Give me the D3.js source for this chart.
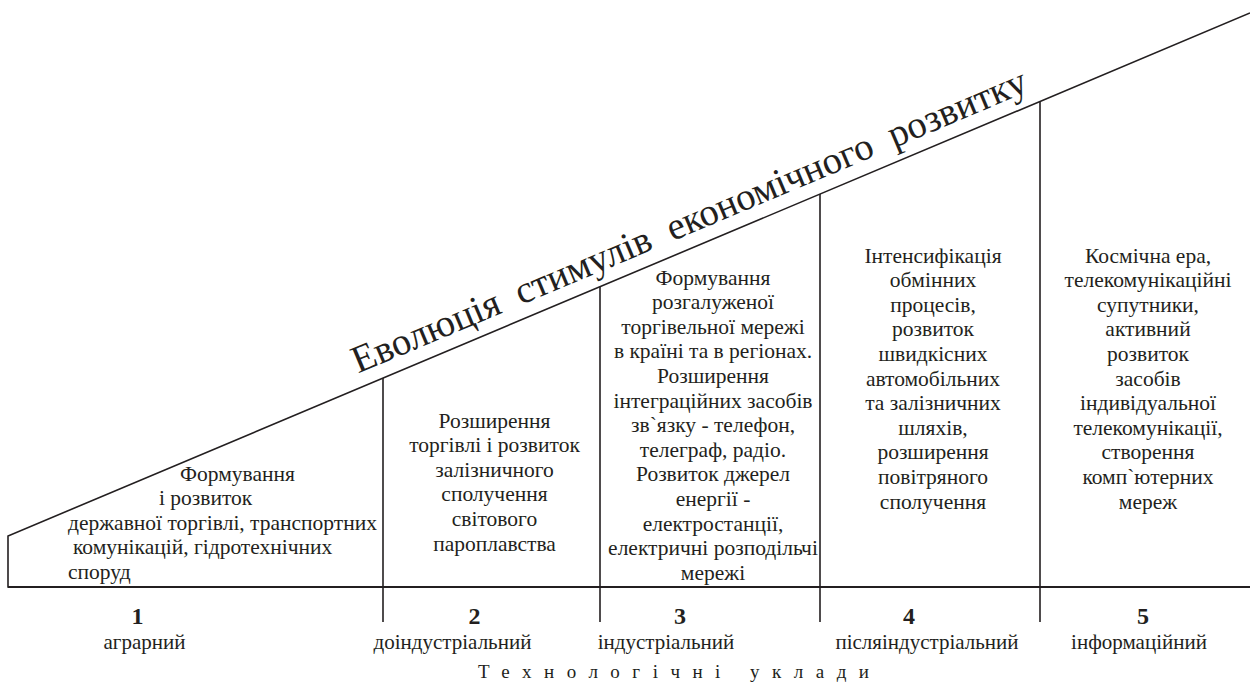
<!DOCTYPE html>
<html>
<head>
<meta charset="utf-8">
<script src="https://cdn.jsdelivr.net/npm/d3@7"></script>
<style>
  body { margin: 0; background: #fff; }
  svg { display: block; font-family: "Liberation Serif", "Times New Roman", serif; }
</style>
</head>
<body>
<div id="chart"></div>
<script>
// Stage data
const stageNumbers = ['1', '2', '3', '4', '5']
const stageNames = ['аграрний', 'доіндустріальний', 'індустріальний', 'післяіндустріальний', 'інформаційний']
const stageTexts = [
  ['Формування', 'і розвиток', 'державної торгівлі, транспортних', 'комунікацій, гідротехнічних', 'споруд'],
  ['Розширення', 'торгівлі і розвиток', 'залізничного', 'сполучення', 'світового', 'пароплавства'],
  ['Формування', 'розгалуженої', 'торгівельної мережі', 'в країні та в регіонах.', 'Розширення',
   'інтеграційних засобів', 'зв`язку - телефон,', 'телеграф, радіо.', 'Розвиток джерел', 'енергії -',
   'електростанції,', 'електричні розподільчі', 'мережі'],
  ['Інтенсифікація', 'обмінних', 'процесів,', 'розвиток', 'швидкісних', 'автомобільних',
   'та залізничних', 'шляхів,', 'розширення', 'повітряного', 'сполучення'],
  ['Космічна ера,', 'телекомунікаційні', 'супутники,', 'активний', 'розвиток', 'засобів',
   'індивідуальної', 'телекомунікації,', 'створення', 'комп`ютерних', 'мереж']
]
const boundaries = [0, 1, 2, 3, 4, 5]
const title = 'Еволюція  стимулів  економічного  розвитку'
const axisTitle = 'Технологічні уклади'

const width = 1250
const height = 684

const svg = d3.select('#chart')
  .append('svg')
  .attr('width', width)
  .attr('height', height)
  .attr('viewBox', [0, 0, width, height])

// stage boundaries along x (stages are not equally wide)
const x = d3.scaleLinear()
  .domain(boundaries)
  .range([8, 383, 600, 820, 1040, 1250])

// rising "stimulus" edge
const edgeY = d3.scaleLinear()
  .domain([x(0), x(5)])
  .range([536, 13])

const baseY = 587
const tickBottom = 622
const ink = '#231f20'

// outline: left edge, diagonal, base
svg.append('path')
  .attr('d', d3.line()([[x(5), edgeY(x(5))], [x(0), edgeY(x(0))], [x(0), baseY], [x(5), baseY]]))
  .attr('fill', 'none')
  .attr('stroke', ink)
  .attr('stroke-width', 1.6)

svg.append('line')
  .attr('x1', x(0)).attr('x2', x(5))
  .attr('y1', baseY).attr('y2', baseY)
  .attr('stroke', ink)
  .attr('stroke-width', 2.2)

// stage dividers
svg.selectAll('.divider')
  .data(boundaries.slice(1, 5))
  .join('line')
  .attr('class', 'divider')
  .attr('x1', d => x(d)).attr('x2', d => x(d))
  .attr('y1', d => edgeY(x(d)))
  .attr('y2', tickBottom)
  .attr('stroke', ink)
  .attr('stroke-width', 1.6)

// title along the diagonal
const angle = Math.atan2(edgeY(x(0)) - edgeY(x(5)), x(5) - x(0)) * 180 / Math.PI
const titleX = 358
const titleText = svg.append('text')
  .attr('transform', `translate(${titleX},${edgeY(titleX) - 15}) rotate(${-angle})`)
  .attr('font-size', 38)
  .attr('fill', ink)
  .style('white-space', 'pre')
  .text(title)
const want = 729
const got = titleText.node().getComputedTextLength()
titleText.attr('font-size', 38 * want / got)

// stage descriptions
const lineH = 24.6
const firstY = [473, 420, 277, 255, 255]
const block1Dx = [172, 151, 60, 65, 60]

stageTexts.forEach((lines, i) => {
  const g = svg.append('g')
    .attr('font-size', 21.5)
    .attr('fill', ink)
  g.selectAll('text')
    .data(lines)
    .join('text')
    .attr('x', (d, j) => i === 0 ? x(0) + block1Dx[j] : x(i + 0.5) + 3)
    .attr('y', (d, j) => firstY[i] + j * lineH)
    .attr('dy', '0.35em')
    .attr('text-anchor', i === 0 ? 'start' : 'middle')
    .text(d => d)
})

// stage numbers and names
const numShift = [-58, -17, -30, -21, -2]
const nameShift = [-51, -39, -44, -3, -6]

svg.selectAll('.num')
  .data(stageNumbers)
  .join('text')
  .attr('class', 'num')
  .attr('x', (d, i) => x(i + 0.5) + numShift[i])
  .attr('y', 624)
  .attr('text-anchor', 'middle')
  .attr('font-size', 24)
  .attr('font-weight', 'bold')
  .attr('fill', ink)
  .text(d => d)

svg.selectAll('.name')
  .data(stageNames)
  .join('text')
  .attr('class', 'name')
  .attr('x', (d, i) => x(i + 0.5) + nameShift[i])
  .attr('y', 649)
  .attr('text-anchor', 'middle')
  .attr('font-size', 21)
  .attr('fill', ink)
  .text(d => d)

// spaced-out axis caption, stretched to its width in the picture
const capStart = 478
const capWidth = 391
const caption = svg.append('text')
  .attr('x', capStart)
  .attr('y', 678)
  .attr('font-size', 19)
  .attr('fill', ink)
  .text(axisTitle)
const natural = caption.node().getComputedTextLength()
caption.attr('letter-spacing', (capWidth - natural) / (axisTitle.length - 1))
</script>
</body>
</html>
